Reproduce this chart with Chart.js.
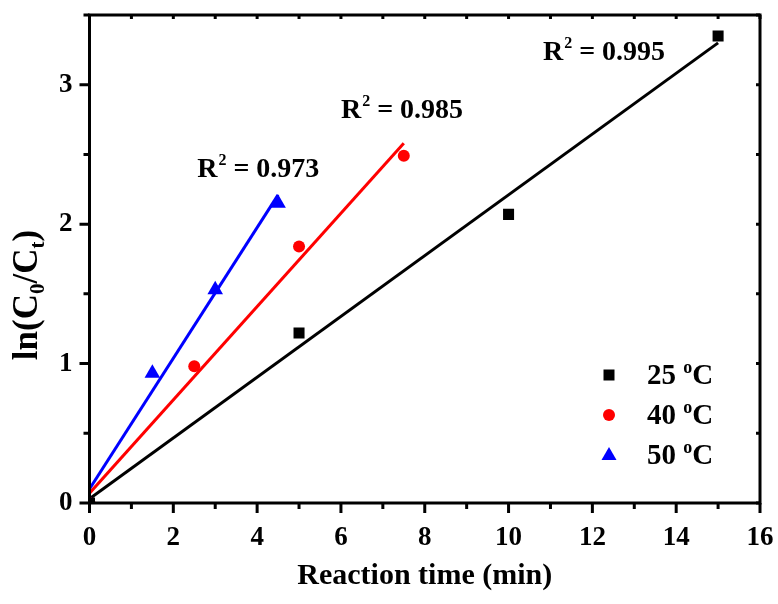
<!DOCTYPE html>
<html>
<head>
<meta charset="utf-8">
<script src="https://cdn.jsdelivr.net/npm/chart.js@4/dist/chart.umd.min.js"></script>
<style>
  html, body { margin: 0; padding: 0; background: #fff; }
  #wrap { width: 778px; height: 604px; }
</style>
</head>
<body>
<div id="wrap"><canvas id="kineticsChart" width="778" height="604"></canvas></div>
<script>
// measured points
const times25 = [0, 5, 10, 15];
const vals25 = [0, 1.22, 2.07, 3.35];
const times40 = [0, 2.5, 5, 7.5];
const vals40 = [0, 0.98, 1.84, 2.49];
const times50 = [0, 1.5, 3, 4.5];
const vals50 = [0, 0.93, 1.53, 2.15];

// fitted lines (end points)
const fitX25 = [0, 15];
const fitY25 = [0.03, 3.30];
const fitX40 = [0, 7.5];
const fitY40 = [0.07, 2.58];
const fitX50 = [0, 4.5];
const fitY50 = [0.10, 2.21];

const seriesNames = ['25', '40', '50'];
const r2Values = ['0.995', '0.985', '0.973'];
const xTicks = [0, 2, 4, 6, 8, 10, 12, 14, 16];
const yTicks = [0, 1, 2, 3];

const FONT = "'Liberation Serif', 'Times New Roman', serif";

const pts = (xs, ys) => xs.map((v, i) => ({ x: v, y: ys[i] }));

// R^2 labels anchored at data coordinates (left edge, baseline)
const r2Anchors = [[10.82, 3.18], [6.0, 2.76], [2.57, 2.34]];

const framePlugin = {
    id: 'frame',
    afterDraw(chart) {
        const { ctx, chartArea: a, scales: { x, y } } = chart;
        ctx.save();
        ctx.strokeStyle = '#000';
        ctx.lineWidth = 3;
        ctx.strokeRect(a.left, a.top, a.right - a.left, a.bottom - a.top);
        ctx.beginPath();
        for (let v = 0; v <= 16; v++) {
            const px = x.getPixelForValue(v);
            const len = v % 2 === 0 ? 10 : 6;
            ctx.moveTo(px, a.bottom); ctx.lineTo(px, a.bottom + len);
            ctx.moveTo(px, a.top); ctx.lineTo(px, a.top + 4);
        }
        for (let v = 0; v <= 3.5; v += 0.5) {
            const py = y.getPixelForValue(v);
            const len = v % 1 === 0 ? 10 : 6;
            ctx.moveTo(a.left, py); ctx.lineTo(a.left - len, py);
            ctx.moveTo(a.right, py); ctx.lineTo(a.right - 4, py);
        }
        ctx.stroke();

        ctx.fillStyle = '#000';
        ctx.textBaseline = 'alphabetic';

        // R^2 labels
        r2Values.forEach((val, i) => {
            let px = x.getPixelForValue(r2Anchors[i][0]);
            const py = y.getPixelForValue(r2Anchors[i][1]);
            ctx.textAlign = 'left';
            ctx.font = 'bold 28px ' + FONT;
            ctx.fillText('R', px, py);
            px += ctx.measureText('R').width;
            ctx.font = 'bold 16px ' + FONT;
            ctx.fillText('2', px + 1, py - 12);
            px += ctx.measureText('2').width + 1;
            ctx.font = 'bold 28px ' + FONT;
            ctx.fillText(' = ' + val, px, py);
        });

        // legend
        const colors = ['#000000', '#ff0000', '#0000ff'];
        const shapes = ['rect', 'circle', 'triangle'];
        seriesNames.forEach((name, i) => {
            const cy = 375 + i * 40;
            const mx = 609;
            ctx.fillStyle = colors[i];
            ctx.beginPath();
            if (shapes[i] === 'rect') {
                ctx.rect(mx - 5.5, cy - 5.5, 11, 11);
            } else if (shapes[i] === 'circle') {
                ctx.arc(mx, cy, 6, 0, Math.PI * 2);
            } else {
                ctx.moveTo(mx, cy - 8);
                ctx.lineTo(mx + 7.5, cy + 5);
                ctx.lineTo(mx - 7.5, cy + 5);
                ctx.closePath();
            }
            ctx.fill();
            ctx.fillStyle = '#000';
            let tx = 647;
            const base = cy + 9;
            ctx.font = 'bold 29px ' + FONT;
            ctx.fillText(name + ' ', tx, base);
            tx += ctx.measureText(name + ' ').width;
            ctx.font = 'bold 18px ' + FONT;
            ctx.fillText('o', tx, base - 11);
            tx += ctx.measureText('o').width;
            ctx.font = 'bold 29px ' + FONT;
            ctx.fillText('C', tx, base);
        });

        // x title
        ctx.font = 'bold 30px ' + FONT;
        ctx.textAlign = 'center';
        ctx.fillText('Reaction time (min)', (a.left + a.right) / 2, 584);

        // y title with subscripts
        ctx.translate(37, 295);
        ctx.rotate(-Math.PI / 2);
        const parts = [['ln(C', false], ['0', true], ['/C', false], ['t', true], [')', false]];
        const big = 'bold 35px ' + FONT;
        const small = 'bold 21px ' + FONT;
        let total = 0;
        parts.forEach(([t, sub]) => {
            ctx.font = sub ? small : big;
            total += ctx.measureText(t).width;
        });
        let cx = -total / 2;
        ctx.textAlign = 'left';
        parts.forEach(([t, sub]) => {
            ctx.font = sub ? small : big;
            ctx.fillText(t, cx, sub ? 7 : 0);
            cx += ctx.measureText(t).width;
        });
        ctx.restore();
    }
};

const ctx = document.getElementById('kineticsChart').getContext('2d');

const chart = new Chart(ctx, {
    type: 'scatter',
    data: {
        datasets: [
            { label: '25 fit', data: pts(fitX25, fitY25), showLine: true, borderColor: '#000000', borderWidth: 3, pointRadius: 0, order: 2, clip: 0 },
            { label: '40 fit', data: pts(fitX40, fitY40), showLine: true, borderColor: '#ff0000', borderWidth: 3, pointRadius: 0, order: 2, clip: 0 },
            { label: '50 fit', data: pts(fitX50, fitY50), showLine: true, borderColor: '#0000ff', borderWidth: 3, pointRadius: 0, order: 2, clip: 0 },
            { label: '25 °C', data: pts(times25, vals25), pointStyle: 'rect', pointRadius: 7.8, backgroundColor: '#000000', borderWidth: 0, order: 1, clip: 0 },
            { label: '40 °C', data: pts(times40, vals40), pointStyle: 'circle', pointRadius: 6, backgroundColor: '#ff0000', borderWidth: 0, order: 1, clip: 0 },
            { label: '50 °C', data: pts(times50, vals50), pointStyle: 'triangle', pointRadius: 9, backgroundColor: '#0000ff', borderWidth: 0, order: 1, clip: 0 }
        ]
    },
    options: {
        responsive: false,
        animation: false,
        layout: { padding: { top: 15, right: 18, left: 0, bottom: 0 } },
        plugins: { legend: { display: false }, tooltip: { enabled: false } },
        scales: {
            x: {
                type: 'linear',
                min: 0, max: 16,
                afterFit: s => { s.height = 101; s.paddingLeft = 0; s.paddingRight = 0; },
                afterBuildTicks: s => { s.ticks = xTicks.map(v => ({ value: v })); },
                grid: { display: false, drawTicks: false },
                border: { display: false },
                ticks: { color: '#000', padding: 19, font: { family: FONT, size: 27, weight: 'bold' } }
            },
            y: {
                type: 'linear',
                min: 0, max: 3.5,
                afterFit: s => { s.width = 89.5; s.paddingTop = 0; s.paddingBottom = 0; },
                afterBuildTicks: s => { s.ticks = yTicks.map(v => ({ value: v })); },
                grid: { display: false, drawTicks: false },
                border: { display: false },
                ticks: { color: '#000', padding: 17, font: { family: FONT, size: 27, weight: 'bold' } }
            }
        }
    },
    plugins: [framePlugin]
});
</script>
</body>
</html>
